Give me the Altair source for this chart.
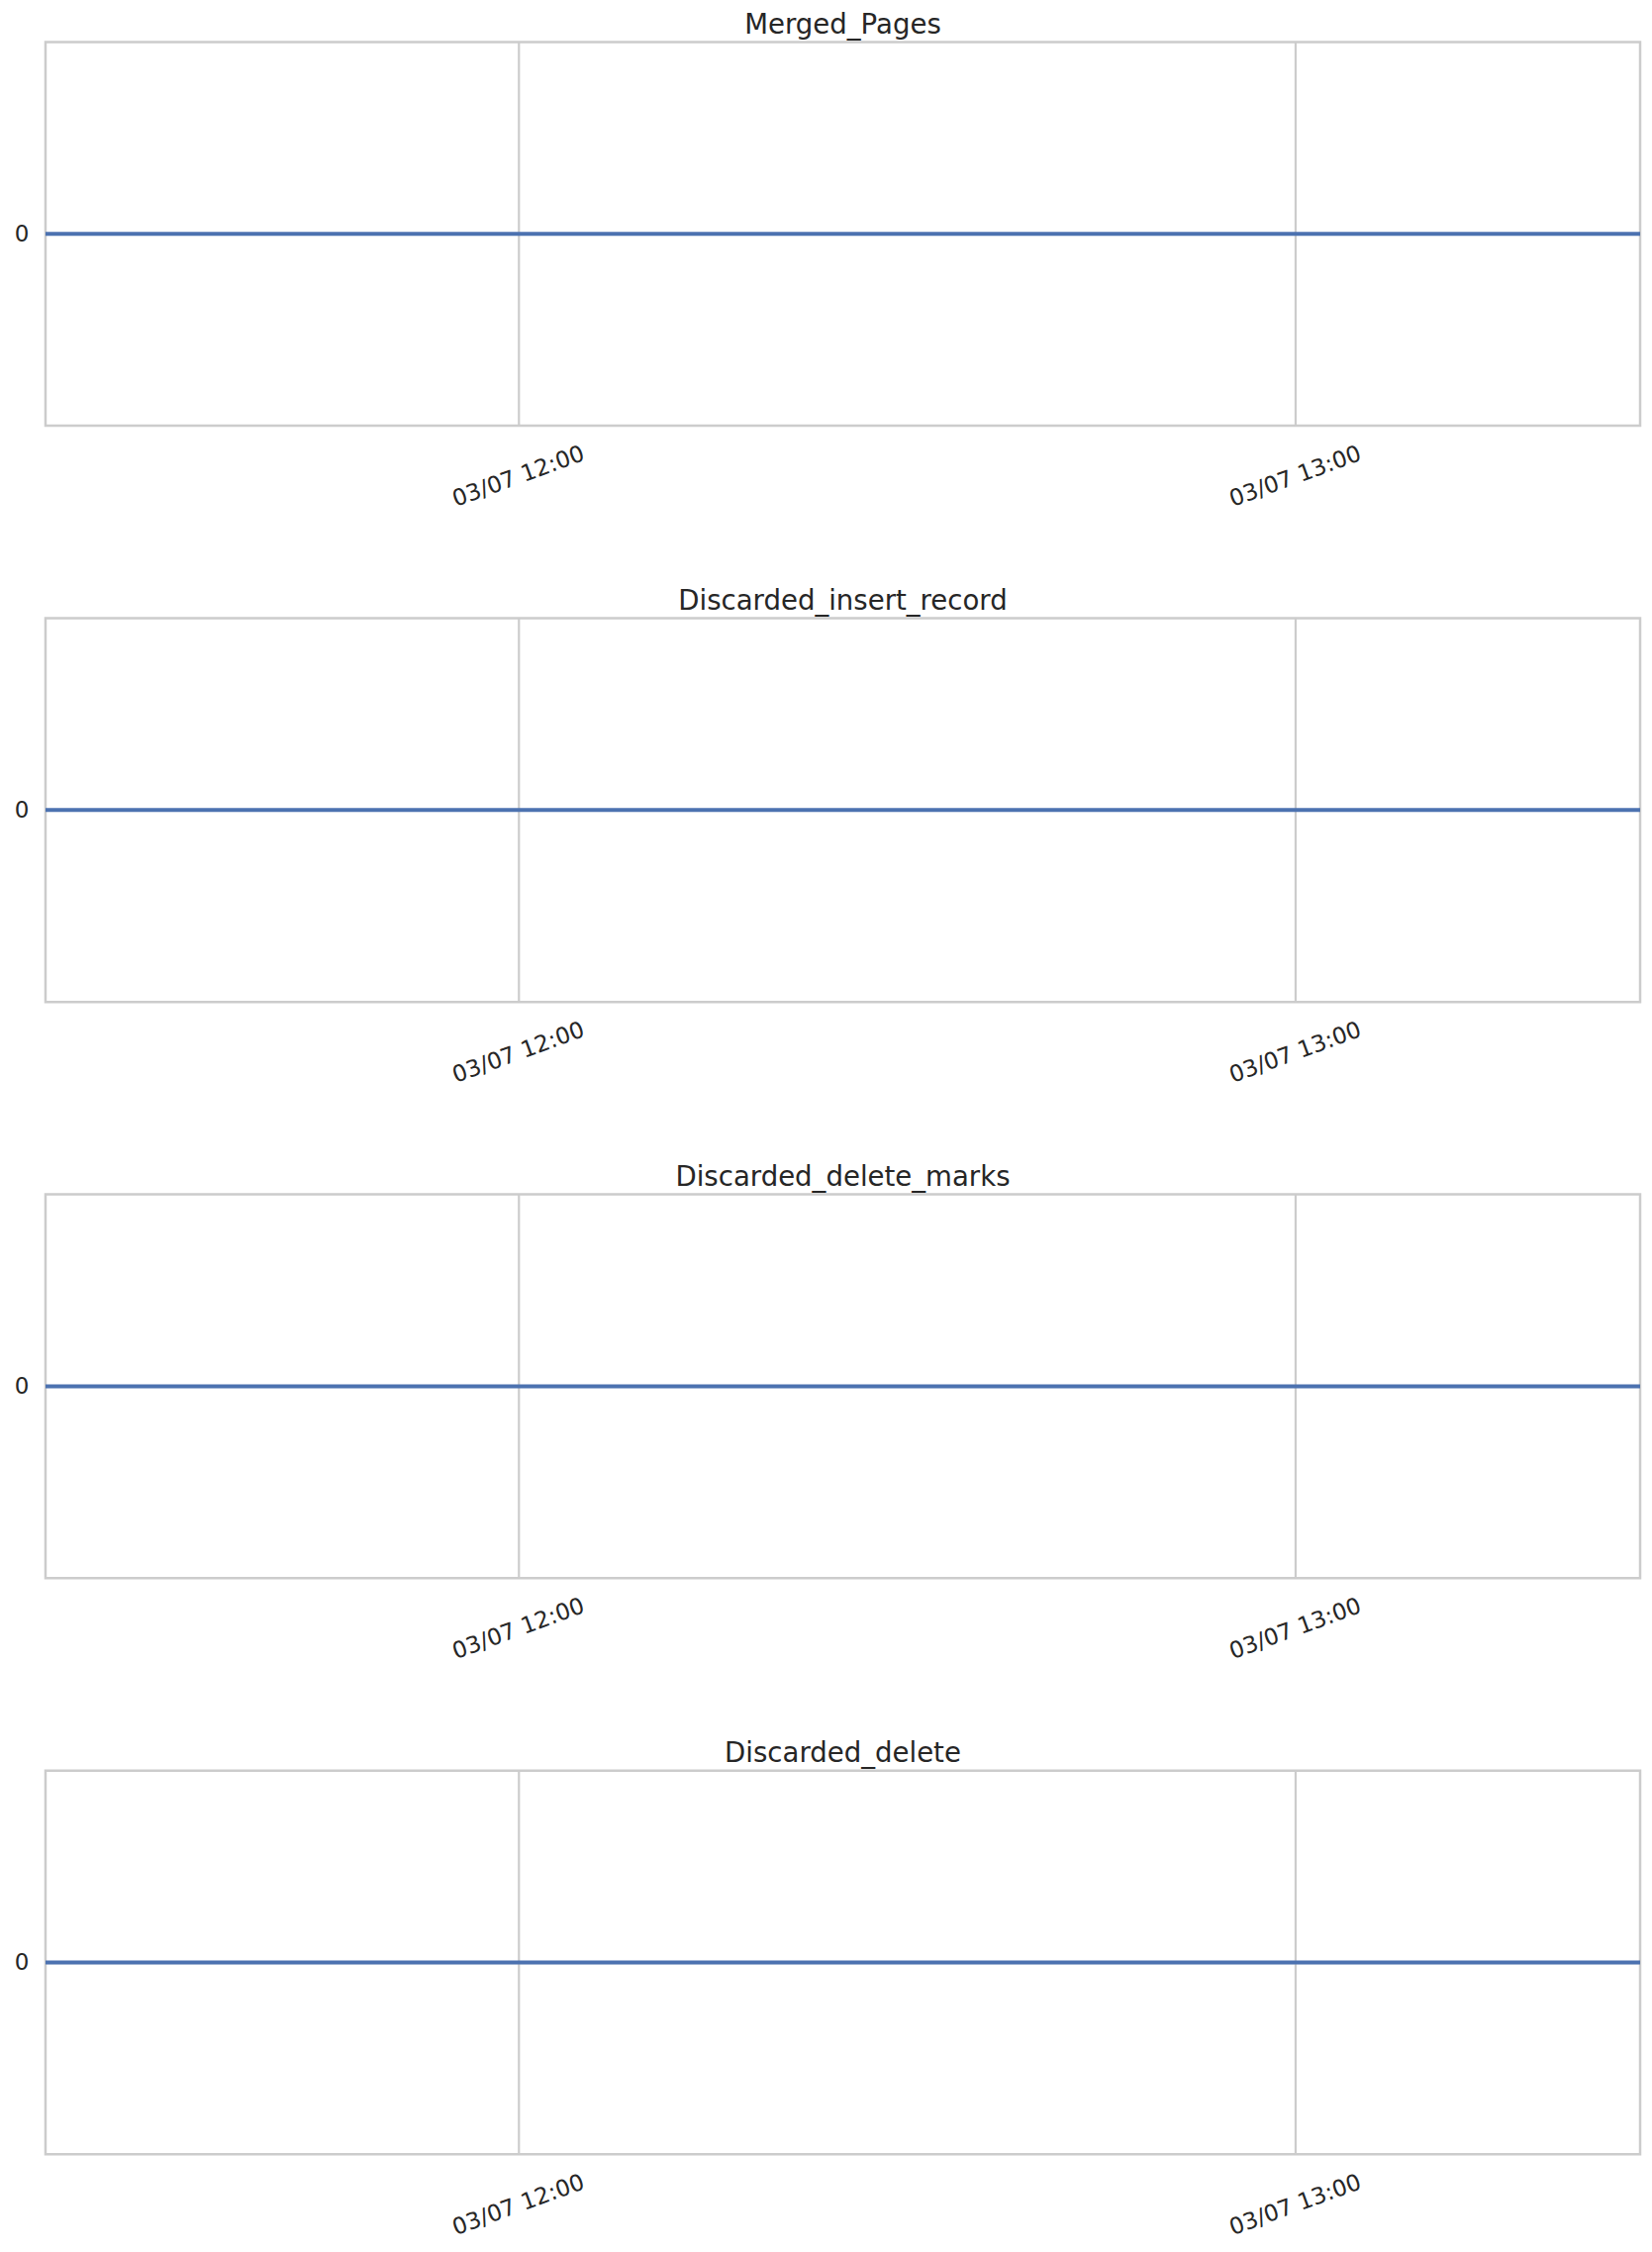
import altair as alt
import pandas as pd

# ---- data -------------------------------------------------------------
titles = ["Merged_Pages", "Discarded_insert_record",
          "Discarded_delete_marks", "Discarded_delete"]

times = ["2024-03-07T11:23:30", "2024-03-07T11:30:00", "2024-03-07T11:40:00",
         "2024-03-07T11:50:00", "2024-03-07T12:00:00", "2024-03-07T12:10:00",
         "2024-03-07T12:20:00", "2024-03-07T12:30:00", "2024-03-07T12:40:00",
         "2024-03-07T12:50:00", "2024-03-07T13:00:00", "2024-03-07T13:10:00",
         "2024-03-07T13:20:00", "2024-03-07T13:26:40"]

merged_pages = [0, 0, 0, 0, 0, 0, 0, 0, 0, 0, 0, 0, 0, 0]
discarded_insert_record = [0, 0, 0, 0, 0, 0, 0, 0, 0, 0, 0, 0, 0, 0]
discarded_delete_marks = [0, 0, 0, 0, 0, 0, 0, 0, 0, 0, 0, 0, 0, 0]
discarded_delete = [0, 0, 0, 0, 0, 0, 0, 0, 0, 0, 0, 0, 0, 0]

series = [merged_pages, discarded_insert_record,
          discarded_delete_marks, discarded_delete]

tick_hours = [12, 13]
y_ticks = [0]

# ---- style ------------------------------------------------------------
FONT = "DejaVu Sans"
TEXT = "#262626"
GRID = "#cccccc"
BLUE = "#4C72B0"

tick_values = [alt.DateTime(year=2024, month=3, date=7, hours=h, minutes=0)
               for h in tick_hours]


def panel(name, values):
    df = pd.DataFrame({"time": times, "value": values})
    return (
        alt.Chart(
            df,
            title=alt.TitleParams(
                name, fontSize=27.6, font=FONT, color=TEXT,
                fontWeight="normal", baseline="alphabetic",
                offset=-19, anchor="middle",
            ),
        )
        .mark_line(color=BLUE, strokeWidth=4, clip=True)
        .encode(
            x=alt.X(
                "time:T",
                scale=alt.Scale(nice=False, padding=0),
                axis=alt.Axis(
                    title=None, values=tick_values, format="%m/%d %H:%M",
                    labelAngle=340, labelAlign="center",
                    labelBaseline="middle", labelPadding=51,
                    ticks=False, tickSize=0, domain=False, grid=True,
                    gridColor=GRID, gridWidth=2.2,
                    labelFontSize=23, labelFont=FONT, labelColor=TEXT,
                    labelFlush=False,
                ),
            ),
            y=alt.Y(
                "value:Q",
                scale=alt.Scale(domain=[-0.055, 0.055], nice=False, zero=False),
                axis=alt.Axis(
                    title=None, values=y_ticks, format="d",
                    ticks=False, tickSize=0, domain=False, grid=True,
                    gridColor=GRID, gridWidth=2.2, labelPadding=17,
                    labelFontSize=23, labelFont=FONT, labelColor=TEXT,
                ),
            ),
        )
        .properties(width=1611.7, height=387.8)
    )


chart = (
    alt.vconcat(*[panel(t, s) for t, s in zip(titles, series)],
                spacing=194.3, bounds="flush")
    .configure_view(stroke=GRID, strokeWidth=2.5)
    .properties(background="white",
                padding={"left": 13, "top": 10, "right": 10, "bottom": 10})
)

chart.save("out.html", embed_options={"renderer": "svg", "actions": False})
